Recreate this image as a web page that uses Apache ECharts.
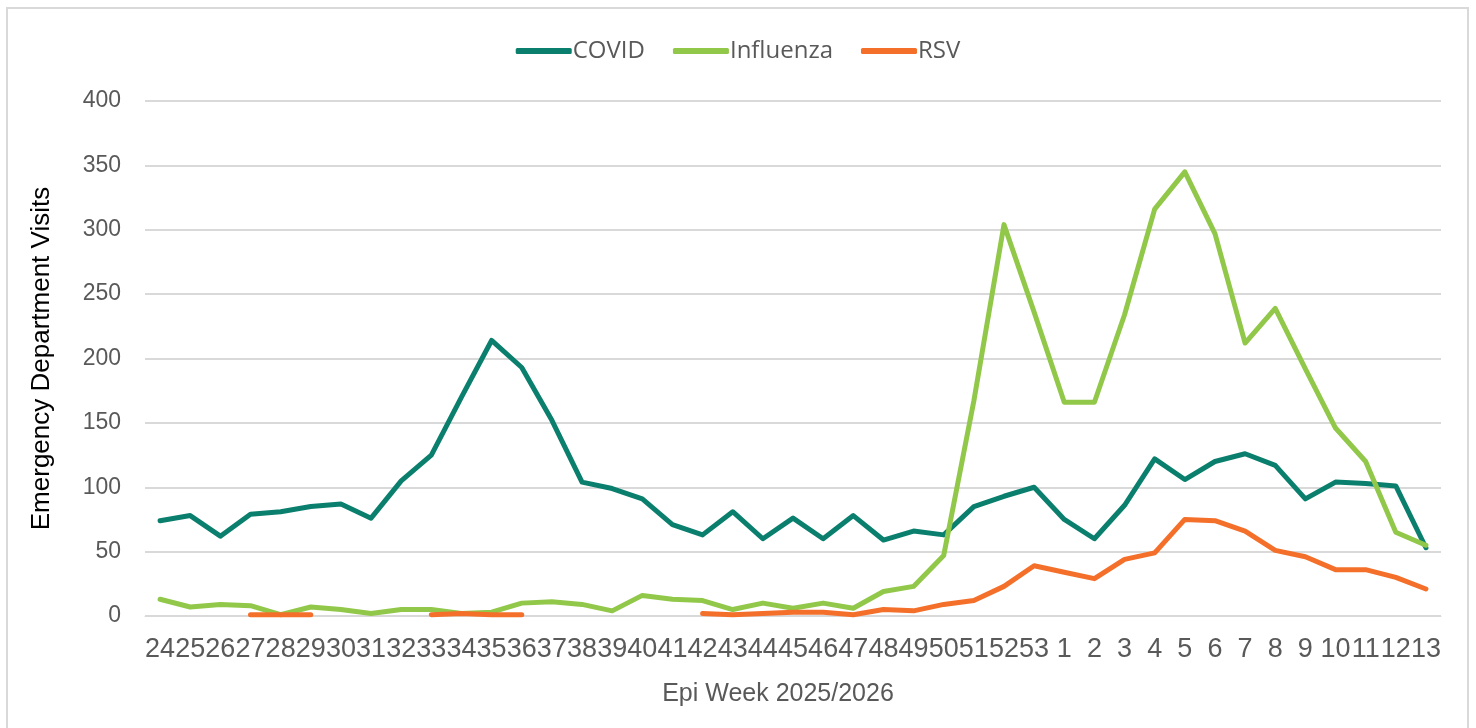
<!DOCTYPE html>
<html>
<head>
<meta charset="utf-8">
<script src="https://cdn.jsdelivr.net/npm/echarts@6/dist/echarts.min.js"></script>
<style>
html,body{margin:0;padding:0;background:#fff;}
#frame{position:absolute;left:6px;top:7px;width:1463px;height:740px;border:2px solid #d9d9d9;border-bottom:none;box-sizing:border-box;}
#chart{position:absolute;left:0;top:0;width:1476px;height:728px;}
</style>
</head>
<body>
<div id="frame"></div>
<div id="chart"></div>
<script>
const weeks = ['24','25','26','27','28','29','30','31','32','33','34','35','36','37','38','39','40','41','42','43','44','45','46','47','48','49','50','51','52','53','1','2','3','4','5','6','7','8','9','10','11','12','13'];
const covid = [74,78,62,79,81,85,87,76,105,125,170,214,193,152,104,99,91,71,63,81,60,76,60,78,59,66,63,85,93,100,75,60,86,122,106,120,126,117,91,104,103,101,53];
const influenza = [13,7,9,8,1,7,5,2,5,5,2,3,10,11,9,4,16,13,12,5,10,6,10,6,19,23,47,167,304,236,166,166,234,316,345,297,212,239,192,146,120,65,55];
const rsv = [null,null,null,1,1,1,null,null,null,1,2,1,1,null,null,null,null,null,2,1,2,3,3,1,5,4,9,12,23,39,34,29,44,49,75,74,66,51,46,36,36,30,21];
const yTicks = [0,50,100,150,200,250,300,350,400];

const chart = echarts.init(document.getElementById('chart'));
const mk = (name, data, color) => ({
  name, type:'line', data, symbol:'none', showSymbol:false,
  lineStyle:{width:5, color, cap:'round', join:'round'}, itemStyle:{color},
  connectNulls:false, animation:false
});
chart.setOption({
  animation:false,
  legend:{
    top:34, left:'center', itemWidth:56, itemHeight:6, itemGap:28,
    icon:'roundRect',
    textStyle:{fontFamily:'Open Sans', fontSize:24, color:'#595959', padding:[0,0,0,-4]},
    data:['COVID','Influenza','RSV']
  },
  grid:{left:145, right:35, top:101, bottom:112},
  xAxis:{
    type:'category', data:weeks, boundaryGap:true,
    name:'Epi Week 2025/2026', nameLocation:'middle', nameGap:66,
    nameTextStyle:{fontFamily:'Liberation Sans', fontSize:25, color:'#595959', padding:[0,30,0,0]},
    axisLine:{show:true, lineStyle:{color:'#d9d9d9', width:1}},
    axisTick:{show:false},
    axisLabel:{interval:0, margin:20, fontFamily:'Liberation Sans Narrow, Liberation Sans', fontSize:27, color:'#595959'}
  },
  yAxis:{
    type:'value', min:0, max:400, interval:50,
    name:'Emergency Department Visits', nameLocation:'middle', nameGap:90,
    nameTextStyle:{fontFamily:'Liberation Sans', fontSize:26, color:'#000'},
    axisLine:{show:false}, axisTick:{show:false},
    axisLabel:{margin:24, fontFamily:'Liberation Sans', fontSize:23, color:'#595959',
      formatter:v => yTicks.includes(v) ? String(v) : ''},
    splitLine:{lineStyle:{color:'#d9d9d9', width:2}}
  },
  series:[
    mk('COVID', covid, '#0B7F6E'),
    mk('Influenza', influenza, '#92C84A'),
    mk('RSV', rsv, '#F4702A')
  ]
});
</script>
</body>
</html>
